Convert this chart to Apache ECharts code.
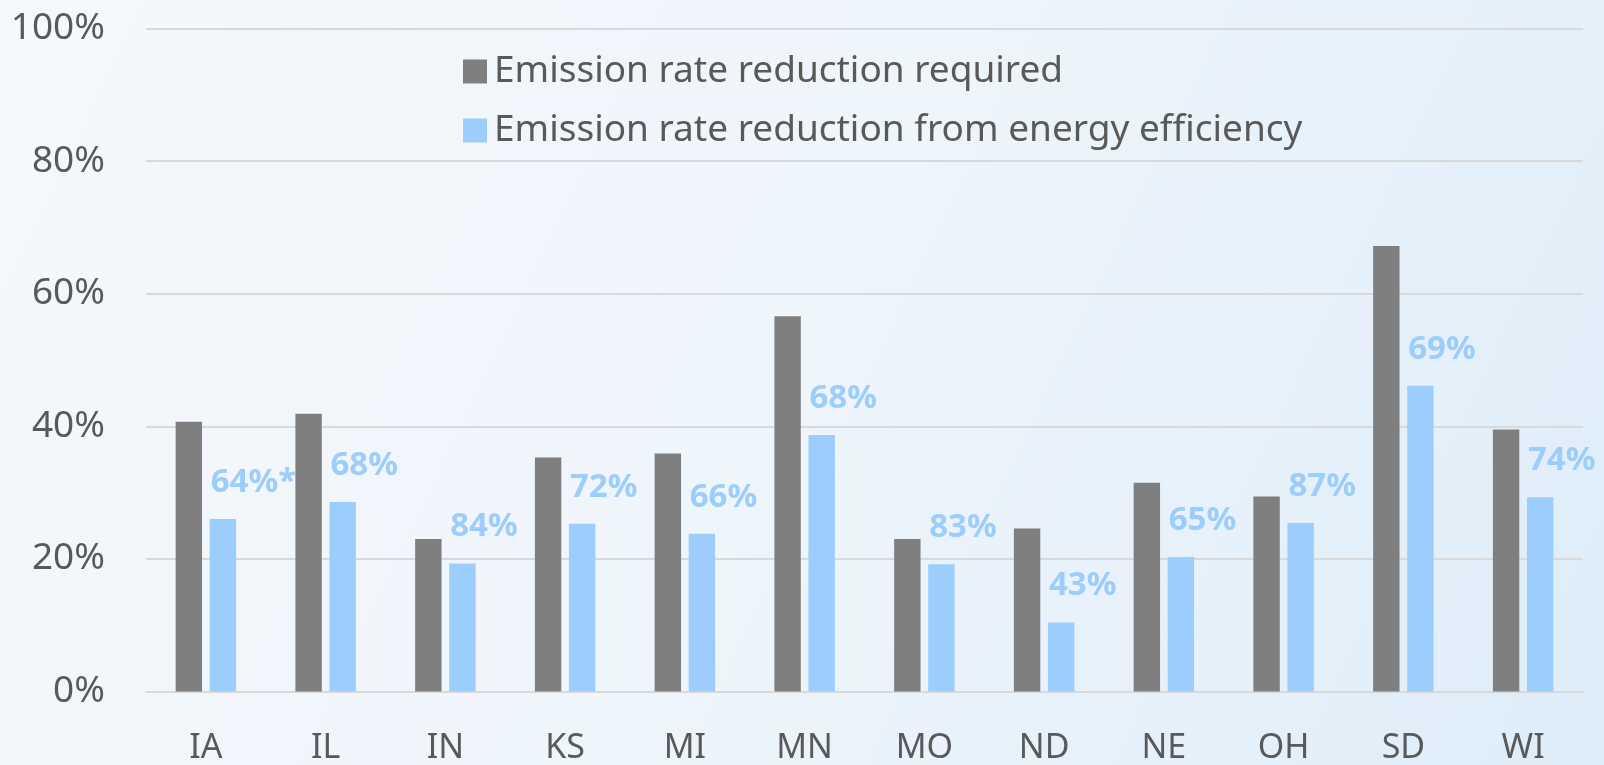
<!DOCTYPE html>
<html>
<head>
<meta charset="utf-8">
<script src="https://cdn.jsdelivr.net/npm/echarts@6/dist/echarts.min.js"></script>
<style>
    html, body { margin: 0; padding: 0; }
    #chart { width: 1604px; height: 765px; }
</style>
</head>
<body>
<div id="chart"></div>
<script>
    // data
    const states = ['IA', 'IL', 'IN', 'KS', 'MI', 'MN', 'MO', 'ND', 'NE', 'OH', 'SD', 'WI'];
    const required = [40.7, 41.9, 23.0, 35.3, 35.9, 56.6, 23.0, 24.6, 31.5, 29.4, 67.2, 39.5];
    const fromEfficiency = [26.0, 28.6, 19.3, 25.3, 23.8, 38.7, 19.2, 10.4, 20.3, 25.4, 46.1, 29.3];
    const efficiencyShare = ['64%*', '68%', '84%', '72%', '66%', '68%', '83%', '43%', '65%', '87%', '69%', '74%'];
    const seriesNames = ['Emission rate reduction required', 'Emission rate reduction from energy efficiency'];

    const grey = '#7f7f7f';
    const blue = '#9dcdfd';
    const textColor = '#595959';

    const myChart = echarts.init(document.getElementById('chart'));
    myChart.setOption({
        backgroundColor: new echarts.graphic.LinearGradient(0, 0, 1, 1, [
            {offset: 0, color: '#f5f8fc'},
            {offset: 0.5, color: '#eef5fb'},
            {offset: 1, color: '#deedf9'}
        ]),
        textStyle: {fontFamily: 'Noto Sans'},
        legend: {
            orient: 'vertical',
            left: 458,
            top: 48,
            itemWidth: 24,
            itemHeight: 24,
            itemGap: 22,
            icon: 'rect',
            textStyle: {fontSize: 37, color: textColor, padding: [0, 0, 0, 2]},
            data: seriesNames
        },
        grid: {left: 146, right: 21, top: 28.5, bottom: 73.5, outerBoundsMode: 'none'},
        xAxis: {
            type: 'category',
            data: states,
            axisLine: {lineStyle: {color: '#d9d9d9', width: 2}},
            axisTick: {show: false},
            axisLabel: {fontSize: 34, color: textColor, margin: 40}
        },
        yAxis: {
            type: 'value',
            min: 0,
            max: 100,
            interval: 20,
            axisLabel: {fontSize: 37, color: textColor, margin: 41, formatter: '{value}%'},
            splitLine: {lineStyle: {color: '#d9d9d9', width: 2}}
        },
        series: [
            {
                name: seriesNames[0],
                type: 'bar',
                barWidth: 26.4,
                barGap: '29%',
                itemStyle: {color: grey},
                data: required
            },
            {
                name: seriesNames[1],
                type: 'bar',
                barWidth: 26.4,
                itemStyle: {color: blue},
                label: {
                    show: true,
                    position: [1, -20],
                    align: 'left',
                    verticalAlign: 'bottom',
                    fontSize: 33,
                    fontWeight: 'bold',
                    color: blue,
                    formatter: function (p) {
                        return efficiencyShare[p.dataIndex];
                    }
                },
                data: fromEfficiency
            }
        ]
    });
</script>
</body>
</html>
